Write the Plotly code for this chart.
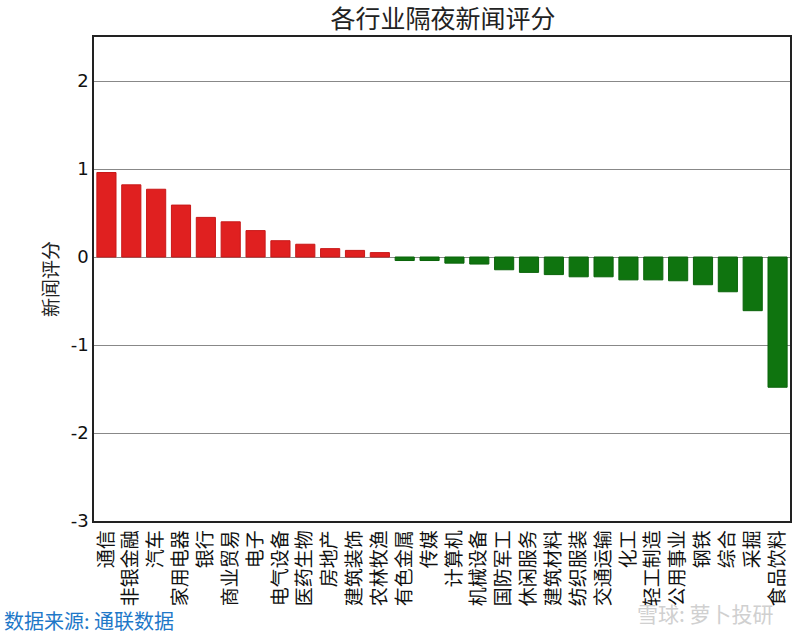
import plotly.graph_objects as go

categories = ["通信", "非银金融", "汽车", "家用电器", "银行", "商业贸易", "电子", "电气设备",
              "医药生物", "房地产", "建筑装饰", "农林牧渔", "有色金属", "传媒", "计算机", "机械设备",
              "国防军工", "休闲服务", "建筑材料", "纺织服装", "交通运输", "化工", "轻工制造", "公用事业",
              "钢铁", "综合", "采掘", "食品饮料"]
scores = [0.96, 0.82, 0.77, 0.59, 0.45, 0.40, 0.30, 0.185,
          0.145, 0.095, 0.075, 0.05, -0.04, -0.04, -0.07, -0.08,
          -0.145, -0.175, -0.2, -0.225, -0.225, -0.26, -0.26, -0.27,
          -0.315, -0.395, -0.61, -1.48]
y_ticks = [-3, -2, -1, 0, 1, 2]

colors = ["#E02020" if v > 0 else "#0F740F" for v in scores]
line_colors = ["#C81818" if v > 0 else "#0B640B" for v in scores]

font_fam = "DejaVu Sans, Noto Sans CJK SC, sans-serif"
cjk = "Noto Sans CJK SC, sans-serif"

fig = go.Figure(go.Bar(
    x=categories, y=scores,
    marker=dict(color=colors, line=dict(color=line_colors, width=1)),
))

fig.update_layout(
    width=800, height=639,
    margin=dict(l=94, r=8, t=37, b=118),
    paper_bgcolor="white", plot_bgcolor="white",
    bargap=0.23,
    showlegend=False,
    title=dict(text="各行业隔夜新闻评分", x=443/800, xanchor="center", y=1-19/639, yanchor="middle",
               font=dict(family=cjk, size=25, color="#222")),
    font=dict(family=font_fam, color="#111"),
)
fig.update_xaxes(
    tickangle=-90, tickfont=dict(family=cjk, size=19, color="#111"),
    showline=True, linecolor="#222", linewidth=1.5, mirror=True,
    showgrid=False, ticks="", ticklen=0,
)
fig.update_yaxes(
    range=[-3, 2.5], tickvals=y_ticks, ticktext=[str(v) for v in y_ticks],
    tickfont=dict(family=font_fam, size=18, color="#111"),
    showline=True, linecolor="#222", linewidth=1.5, mirror=True,
    showgrid=True, gridcolor="#888", gridwidth=1, zeroline=True, zerolinecolor="#888", zerolinewidth=1,
    title=dict(text="新闻评分", font=dict(family=cjk, size=19, color="#222"), standoff=7),
)
fig.add_annotation(text="数据来源: 通联数据", xref="paper", yref="paper",
                   x=-92/698, y=-(620-521)/484, xanchor="left", yanchor="middle", showarrow=False,
                   font=dict(family=cjk, size=20, color="#1E78C8"))
fig.add_annotation(text="雪球: 萝卜投研", xref="paper", yref="paper",
                   x=(778-94)/698, y=-(613-521)/484, xanchor="right", yanchor="middle", showarrow=False,
                   font=dict(family=cjk, size=21, color="#D0D0D0"))

fig.write_html("out.html")
